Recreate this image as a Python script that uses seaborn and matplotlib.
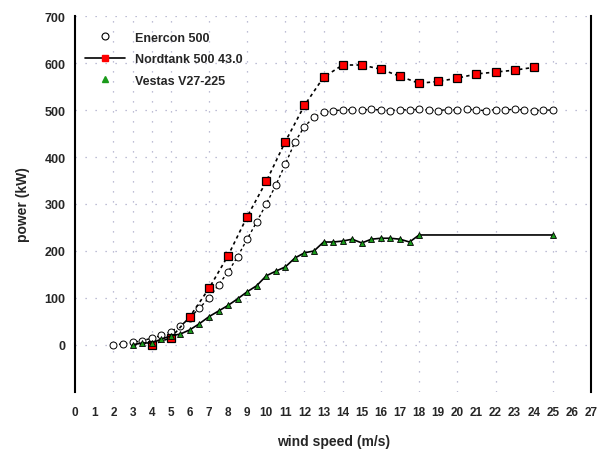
import matplotlib
matplotlib.use("Agg")
import matplotlib.pyplot as plt
from matplotlib.lines import Line2D
import seaborn as sns
import numpy as np
import pandas as pd

# Power curves (wind speed in m/s, power in kW)
enercon_speed = [2, 2.5, 3, 3.5, 4, 4.5, 5, 5.5, 6, 6.5, 7, 7.5, 8, 8.5, 9, 9.5,
                 10, 10.5, 11, 11.5, 12, 12.5, 13, 13.5, 14, 14.5, 15, 15.5, 16,
                 16.5, 17, 17.5, 18, 18.5, 19, 19.5, 20, 20.5, 21, 21.5, 22, 22.5,
                 23, 23.5, 24, 24.5, 25]
enercon_power = [0, 2, 5, 9, 14, 20, 28, 40, 58, 78, 100, 128, 155, 188, 225, 262,
                 300, 340, 385, 432, 465, 485, 495, 499, 500, 501, 500, 502, 500,
                 499, 501, 500, 502, 500, 499, 501, 500, 502, 500, 499, 501, 500,
                 502, 500, 499, 500, 500]

nordtank_speed = [4, 5, 6, 7, 8, 9, 10, 11, 12, 13, 14, 15, 16, 17, 18, 19, 20,
                  21, 22, 23, 24]
nordtank_power = [0, 15, 60, 120, 190, 273, 348, 433, 510, 570, 596, 596, 587,
                  572, 557, 561, 568, 577, 581, 585, 591]

vestas_speed = [3, 3.5, 4, 4.5, 5, 5.5, 6, 6.5, 7, 7.5, 8, 8.5, 9, 9.5, 10, 10.5,
                11, 11.5, 12, 12.5, 13, 13.5, 14, 14.5, 15, 15.5, 16, 16.5, 17,
                17.5, 18, 25]
vestas_power = [0, 4, 4, 12, 19, 23, 32, 45, 60, 72, 84, 98, 113, 126, 147, 157,
                166, 185, 196, 200, 219, 219, 221, 225, 217, 225, 227, 227, 225,
                219, 234, 234]

grid_speeds = [2, 3, 4, 5, 7, 9, 11, 12, 13, 14, 16, 18, 20, 22, 25]
x_ticks = list(range(0, 28))
y_ticks = list(range(0, 701, 100))

sns.set_style("white")
plt.rcParams["font.family"] = ["Liberation Sans", "DejaVu Sans"]
plt.rcParams["font.weight"] = "bold"

fig = plt.figure(figsize=(5.97, 4.52), dpi=100)
ax = fig.add_axes([0.126, 0.131, 0.864, 0.831])

grid_kw = dict(color="#a9a9c8", linewidth=0.9, linestyle=(0, (1, 7)), zorder=0)
for gx in grid_speeds:
    ax.axvline(gx, **grid_kw)
for gy in y_ticks:
    ax.axhline(gy, **grid_kw)

enercon = pd.DataFrame({"speed": enercon_speed, "power": enercon_power})
nordtank = pd.DataFrame({"speed": nordtank_speed, "power": nordtank_power})
vestas = pd.DataFrame({"speed": vestas_speed, "power": vestas_power})

sns.lineplot(data=enercon, x="speed", y="power", ax=ax, estimator=None,
             color="black", linewidth=1.0, linestyle=(0, (2, 2)),
             marker="o", markersize=5, markerfacecolor="white",
             markeredgecolor="black", markeredgewidth=0.7, zorder=3)
sns.lineplot(data=nordtank, x="speed", y="power", ax=ax, estimator=None,
             color="black", linewidth=1.2, linestyle=(0, (2, 2)),
             marker="s", markersize=5.5, markerfacecolor="#ff0000",
             markeredgecolor="black", markeredgewidth=0.9, zorder=4)
sns.lineplot(data=vestas, x="speed", y="power", ax=ax, estimator=None,
             color="black", linewidth=1.2, linestyle="-",
             marker="^", markersize=5, markerfacecolor="#1a9a1a",
             markeredgecolor="black", markeredgewidth=0.6, zorder=5)

ax.set_xlim(0, 27)
ax.set_ylim(-100, 700)
ax.set_xticks(x_ticks)
ax.set_xticklabels([str(t) for t in x_ticks], fontsize=8.5, fontweight="bold")
ax.set_xticks(grid_speeds, minor=True)
ax.set_yticks(y_ticks)
ax.set_yticklabels([str(t) for t in y_ticks], fontsize=9, fontweight="bold")
ax.tick_params(axis="x", which="major", length=0, pad=10)
ax.tick_params(axis="x", which="minor", length=5, width=1.2,
               direction="inout", color="black")
ax.tick_params(axis="y", which="major", length=4, width=1.2,
               direction="out", color="black", pad=3)

for side in ("top", "bottom"):
    ax.spines[side].set_visible(False)
for side in ("left", "right"):
    ax.spines[side].set_visible(True)
    ax.spines[side].set_color("black")
    ax.spines[side].set_linewidth(1.5)

ax.set_xlabel("wind speed (m/s)", fontsize=10, fontweight="bold", labelpad=12)
ax.set_ylabel("power (kW)", fontsize=10, fontweight="bold", labelpad=10)

handles = [
    Line2D([], [], linestyle="none", marker="o", markersize=5,
           markerfacecolor="white", markeredgecolor="black", markeredgewidth=0.8),
    Line2D([], [], color="black", linewidth=1.2, marker="s", markersize=5,
           markerfacecolor="#ff0000", markeredgecolor="#ff0000"),
    Line2D([], [], linestyle="none", marker="^", markersize=5,
           markerfacecolor="#1a9a1a", markeredgecolor="#1a9a1a"),
]
labels = ["Enercon 500", "Nordtank 500 43.0", "Vestas V27-225"]
ax.legend(handles, labels, loc="upper left", bbox_to_anchor=(0.0, 0.985),
          frameon=False, fontsize=9, handlelength=3.2, labelspacing=0.75,
          borderaxespad=0.4, prop={"weight": "bold", "size": 9})

fig.savefig("out.png", dpi=100, facecolor="white")
